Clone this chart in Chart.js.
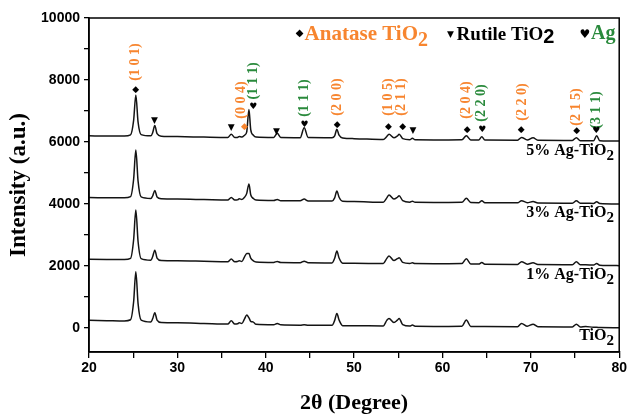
<!DOCTYPE html>
<html>
<head>
<meta charset="utf-8">
<script src="https://cdn.jsdelivr.net/npm/chart.js@4.4.1/dist/chart.umd.min.js"></script>
<style>
  html, body { margin: 0; padding: 0; background: #fff; }
  canvas { display: block; }
</style>
</head>
<body>
<canvas id="chart" width="629" height="414"></canvas>
<script>
'use strict';

// 2theta positions (degrees)
const twoTheta = [20, 22, 24, 24.7, 25.05, 25.3, 25.55, 25.9, 27.0, 27.2, 27.45, 27.7, 28.2, 30, 33,
  35.7, 36.1, 36.5, 36.8, 37.0, 37.3, 37.6, 37.85, 38.1, 38.3, 38.6, 38.9, 40.9, 41.3, 41.7,
  43.9, 44.35, 44.8, 47.5, 47.8, 48.05, 48.3, 48.7, 50, 53.3, 53.7, 53.95, 54.5, 54.9, 55.1,
  55.5, 56.3, 56.6, 56.9, 60, 62.2, 62.7, 63.2, 64.1, 64.45, 64.8, 68.5, 68.95, 69.6, 70.25,
  70.8, 74.7, 75.15, 75.6, 76.2, 77.1, 77.45, 77.8, 80];

// intensities (already offset in the figure)
const tio2 = [250, 240, 230, 270, 850, 1815, 800, 260, 200, 300, 495, 260, 180, 170, 150,
  130, 235, 130, 140, 172, 150, 300, 420, 330, 220, 195, 125, 110, 150, 105,
  95, 110, 90, 90, 250, 475, 260, 80, 75, 70, 250, 312, 180, 260, 312,
  110, 65, 97, 60, 55, 60, 258, 55, 50, 55, 50, 45, 150, 60, 128,
  45, 40, 128, 35, 55, 25, 25, 20, 15];

const ag1 = [2220, 2215, 2210, 2250, 2850, 3810, 2800, 2240, 2190, 2300, 2515, 2260, 2180, 2170, 2155,
  2140, 2225, 2140, 2145, 2170, 2150, 2300, 2410, 2405, 2260, 2170, 2135, 2120, 2150, 2115,
  2110, 2160, 2105, 2100, 2250, 2485, 2260, 2095, 2090, 2085, 2250, 2325, 2180, 2240, 2270,
  2120, 2085, 2105, 2080, 2075, 2080, 2235, 2070, 2065, 2115, 2060, 2055, 2140, 2060, 2105,
  2050, 2045, 2140, 2040, 2040, 2035, 2085, 2030, 2015];

const ag3 = [4210, 4205, 4200, 4240, 4800, 5740, 4750, 4230, 4180, 4260, 4440, 4230, 4170, 4160, 4145,
  4130, 4215, 4130, 4135, 4170, 4150, 4220, 4345, 4650, 4300, 4180, 4130, 4115, 4150, 4110,
  4105, 4160, 4100, 4100, 4200, 4420, 4220, 4090, 4080, 4060, 4200, 4290, 4160, 4220, 4270,
  4110, 4060, 4095, 4055, 4050, 4055, 4185, 4050, 4045, 4110, 4045, 4040, 4110, 4045, 4080,
  4035, 4030, 4105, 4025, 4025, 4020, 4075, 4015, 4000];

const ag5 = [6200, 6195, 6195, 6230, 6700, 7520, 6650, 6240, 6200, 6300, 6530, 6270, 6190, 6175, 6160,
  6150, 6250, 6150, 6150, 6180, 6160, 6220, 6330, 7050, 6400, 6220, 6160, 6145, 6280, 6145,
  6140, 6460, 6145, 6140, 6200, 6410, 6220, 6130, 6110, 6080, 6180, 6250, 6140, 6200, 6250,
  6110, 6075, 6120, 6075, 6070, 6075, 6200, 6070, 6065, 6170, 6065, 6060, 6150, 6065, 6140,
  6055, 6050, 6140, 6045, 6045, 6040, 6200, 6040, 6030];

const yTicks = [0, 1000, 2000, 3000, 4000, 5000, 6000, 7000, 8000, 9000, 10000];

// hkl labels above the 5% pattern: [text, 2theta, intensity of label centre, phase]
const hklLabels = [
  ['(1 0 1)', 25.3, 8580, 'A'],
  ['(0 0 4)', 37.25, 7355, 'A'],
  ['(1 1 1)', 38.6, 7970, 'G'],
  ['(1 1 1)', 44.4, 7420, 'G'],
  ['(2 0 0)', 48.1, 7450, 'A'],
  ['(1 0 5)', 53.85, 7450, 'A'],
  ['(2 1 1)', 55.3, 7450, 'A'],
  ['(2 0 4)', 62.7, 7355, 'A'],
  ['(2 2 0)', 64.4, 7260, 'G'],
  ['(2 2 0)', 69.0, 7290, 'A'],
  ['(2 1 5)', 75.1, 7130, 'A'],
  ['(3 1 1)', 77.4, 7030, 'G']
];

// phase markers: [symbol, 2theta, intensity, colour]
const phaseMarks = [
  ['◆', 25.3, 7680, '#000'], ['▼', 27.4, 6680, '#000'], ['▼', 36.1, 6450, '#000'],
  ['◆', 37.6, 6485, '#f7852f'], ['♥', 38.6, 7130, '#000'], ['▼', 41.2, 6320, '#000'],
  ['♥', 44.4, 6550, '#000'], ['◆', 48.1, 6550, '#000'], ['◆', 53.9, 6485, '#000'],
  ['◆', 55.5, 6485, '#000'], ['▼', 56.65, 6355, '#000'], ['◆', 62.8, 6390, '#000'],
  ['♥', 64.5, 6390, '#000'], ['◆', 68.9, 6390, '#000'], ['◆', 75.2, 6355, '#000'],
  ['♥', 77.4, 6355, '#000']
];

const sampleNames = ['5% Ag-TiO', '3% Ag-TiO', '1% Ag-TiO', 'TiO'];
const sampleLabelY = [5580, 3580, 1580, -390];

const ORANGE = '#f7852f';
const GREEN = '#2a8a3c';
const SERIF = '"Liberation Serif", "Times New Roman", serif';
const SANS = '"Liberation Sans", Arial, sans-serif';

function makeSeries(values) {
  return twoTheta.map((t, i) => ({ x: t, y: values[i] }));
}

// text with a subscript "2" at the end
function drawWithSub(ctx, text, sub, x, y, size, color, align) {
  ctx.save();
  ctx.fillStyle = color;
  ctx.textBaseline = 'alphabetic';
  ctx.font = 'bold ' + size + 'px ' + SERIF;
  const w1 = ctx.measureText(text).width;
  ctx.font = 'bold ' + Math.round(size * 0.95) + 'px ' + SERIF;
  const w2 = ctx.measureText(sub).width;
  let start = align === 'right' ? x - w1 - w2 : x;
  ctx.font = 'bold ' + size + 'px ' + SERIF;
  ctx.fillText(text, start, y);
  ctx.font = 'bold ' + Math.round(size * 0.95) + 'px ' + SERIF;
  ctx.fillText(sub, start + w1, y + size * 0.3);
  ctx.restore();
  return start + w1 + w2;
}

const annotations = {
  id: 'annotations',
  afterDraw(chart) {
    const ctx = chart.ctx;
    const xs = chart.scales.x;
    const ys = chart.scales.y;
    const area = chart.chartArea;

    // frame
    ctx.save();
    ctx.strokeStyle = '#000';
    ctx.lineWidth = 1.5;
    ctx.strokeRect(area.left, area.top, area.right - area.left, area.bottom - area.top);
    ctx.restore();

    // hkl labels, rotated
    hklLabels.forEach(([txt, t, v, phase]) => {
      ctx.save();
      ctx.translate(xs.getPixelForValue(t), ys.getPixelForValue(v));
      ctx.rotate(-Math.PI / 2);
      ctx.font = 'bold 14px ' + SERIF;
      ctx.fillStyle = phase === 'G' ? GREEN : ORANGE;
      ctx.textAlign = 'center';
      ctx.textBaseline = 'middle';
      ctx.fillText(txt, 0, 0);
      ctx.restore();
    });

    // markers
    phaseMarks.forEach(([sym, t, v, col]) => {
      ctx.save();
      ctx.font = '9px "DejaVu Sans", sans-serif';
      ctx.fillStyle = col;
      ctx.textAlign = 'center';
      ctx.textBaseline = 'middle';
      ctx.fillText(sym, xs.getPixelForValue(t), ys.getPixelForValue(v));
      ctx.restore();
    });

    // sample names at right
    const rx = xs.getPixelForValue(79.4);
    sampleNames.forEach((name, i) => {
      drawWithSub(ctx, name, '2', rx, ys.getPixelForValue(sampleLabelY[i]), 16, '#000', 'right');
    });

    // phase key along the top
    const ky = ys.getPixelForValue(9300);
    ctx.save();
    ctx.font = '10px "DejaVu Sans", sans-serif';
    ctx.fillStyle = '#000';
    ctx.textBaseline = 'alphabetic';
    ctx.fillText('◆', xs.getPixelForValue(43.4), ky - 4);
    ctx.restore();
    drawWithSub(ctx, 'Anatase TiO', '2', xs.getPixelForValue(44.4), ky, 21, ORANGE, 'left');

    ctx.save();
    ctx.font = '9px "DejaVu Sans", sans-serif';
    ctx.fillStyle = '#000';
    ctx.fillText('▼', xs.getPixelForValue(60.5), ky - 3);
    ctx.font = 'bold 19px ' + SERIF;
    ctx.fillText('Rutile TiO', xs.getPixelForValue(61.6), ky);
    const w = ctx.measureText('Rutile TiO').width;
    ctx.font = 'bold 20px ' + SANS;
    ctx.fillText('2', xs.getPixelForValue(61.6) + w, ky + 3);
    ctx.font = '12px "DejaVu Sans", sans-serif';
    ctx.fillText('♥', xs.getPixelForValue(75.5), ky - 2);
    ctx.font = 'bold 20px ' + SERIF;
    ctx.fillStyle = GREEN;
    ctx.fillText('Ag', xs.getPixelForValue(76.8), ky - 1);
    ctx.restore();
  }
};

const lineStyle = {
  borderColor: '#141414',
  borderWidth: 1.5,
  pointRadius: 0,
  fill: false,
  cubicInterpolationMode: 'monotone'
};

const chartConfig = {
  type: 'line',
  data: {
    datasets: [
      Object.assign({ label: 'TiO2', data: makeSeries(tio2) }, lineStyle),
      Object.assign({ label: '1% Ag-TiO2', data: makeSeries(ag1) }, lineStyle),
      Object.assign({ label: '3% Ag-TiO2', data: makeSeries(ag3) }, lineStyle),
      Object.assign({ label: '5% Ag-TiO2', data: makeSeries(ag5) }, lineStyle)
    ]
  },
  options: {
    responsive: false,
    animation: false,
    devicePixelRatio: 1,
    layout: { padding: { top: 18, right: 9, left: 0, bottom: 0 } },
    plugins: { legend: { display: false }, tooltip: { enabled: false } },
    scales: {
      x: {
        type: 'linear',
        min: 20,
        max: 80,
        afterFit: s => { s.height = 62; },
        ticks: {
          stepSize: 5,
          autoSkip: false,
          maxRotation: 0,
          padding: 2,
          color: '#000',
          font: { family: SANS, size: 14, weight: 'bold' },
          callback: v => (v % 10 === 0 ? v : '')
        },
        grid: { drawOnChartArea: false, tickLength: 6, color: '#000', lineWidth: 1.3 },
        border: { color: '#000', width: 1.5 },
        title: {
          display: true,
          text: '2θ (Degree)',
          color: '#000',
          font: { family: SERIF, size: 22, weight: 'bold' },
          padding: { top: 0, bottom: -3 }
        }
      },
      y: {
        min: -770,
        max: 10000,
        afterFit: s => { s.width = 89; },
        afterBuildTicks: s => { s.ticks = yTicks.map(v => ({ value: v })); },
        ticks: {
          color: '#000',
          padding: 4,
          font: { family: SANS, size: 14, weight: 'bold' },
          callback: v => (v % 2000 === 0 ? v : '')
        },
        grid: { drawOnChartArea: false, tickLength: 5, color: '#000', lineWidth: 1.3 },
        border: { color: '#000', width: 1.5 },
        title: {
          display: true,
          text: 'Intensity (a.u.)',
          color: '#000',
          font: { family: SERIF, size: 23, weight: 'bold' },
          padding: { top: 5, bottom: 4 }
        }
      }
    }
  },
  plugins: [annotations]
};

const canvasElem = document.getElementById('chart');
const myChart = new Chart(canvasElem, chartConfig);
</script>
</body>
</html>
